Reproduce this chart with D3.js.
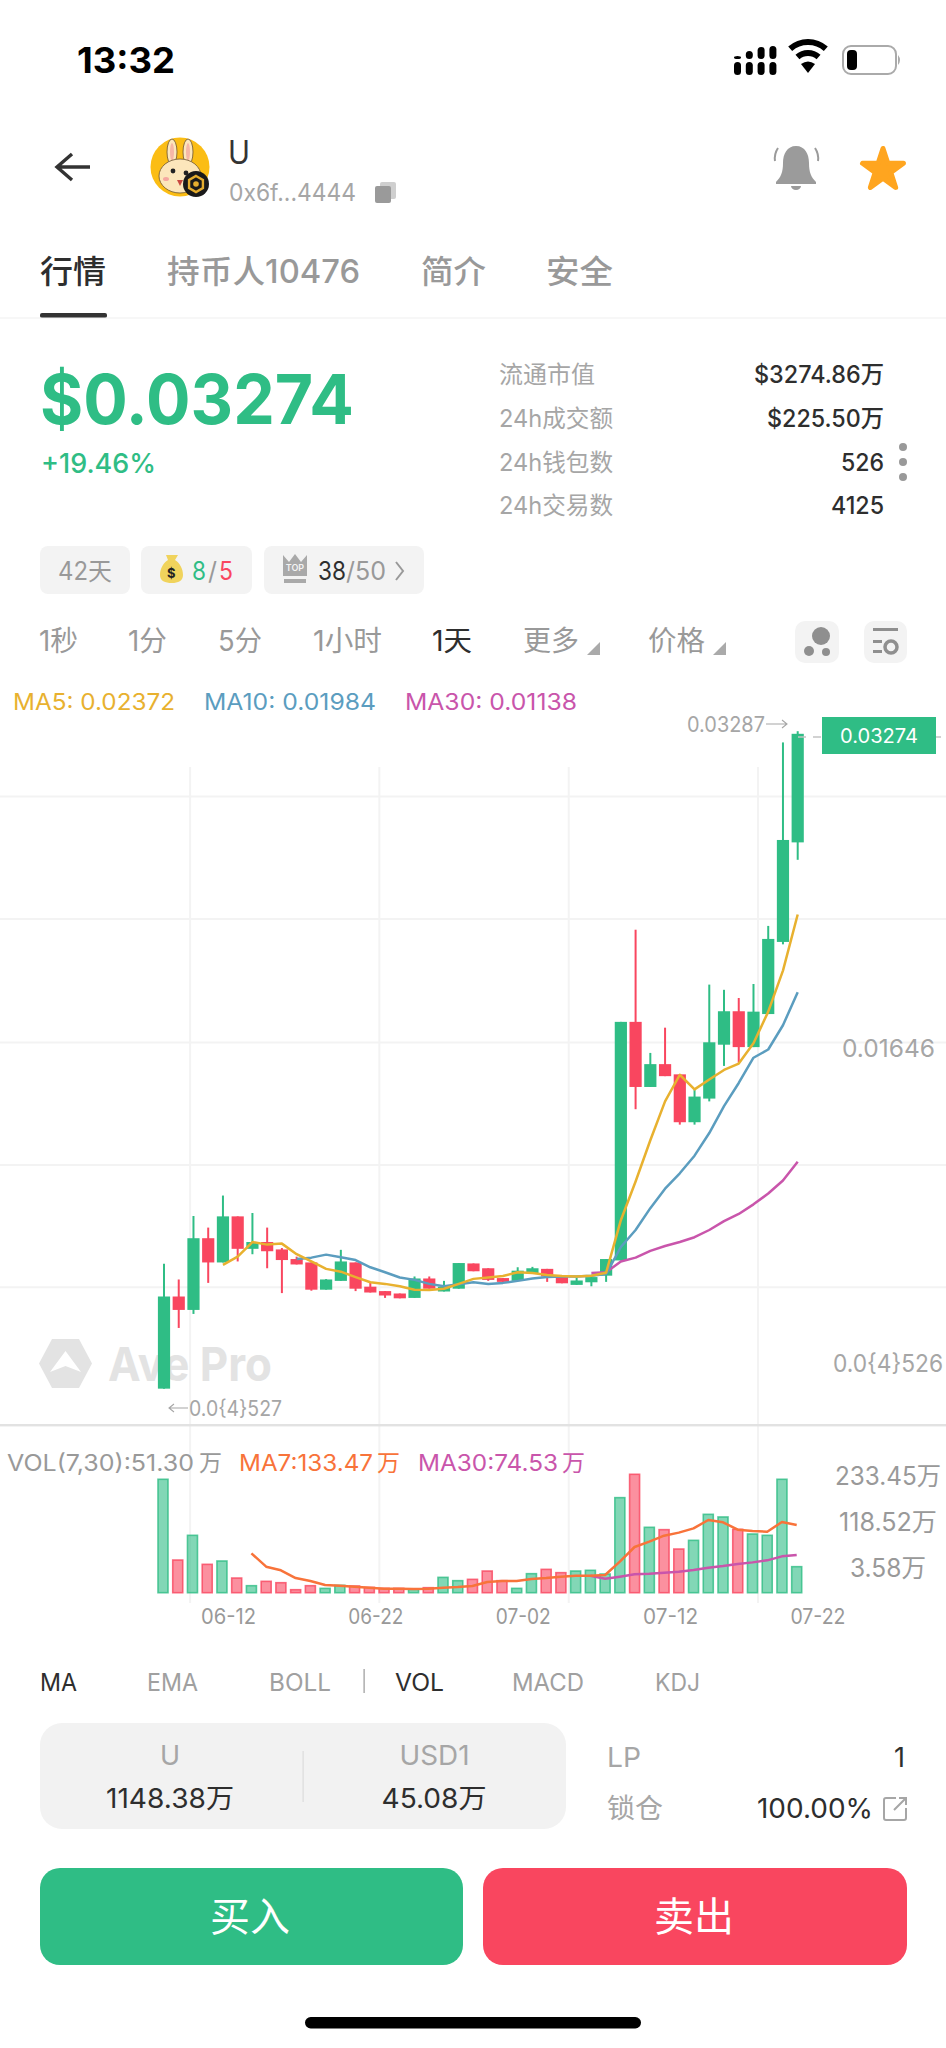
<!DOCTYPE html>
<html>
<head>
<meta charset="utf-8">
<script src="https://cdn.jsdelivr.net/npm/d3@7"></script>
<style>
html, body { margin: 0; padding: 0; background: #fff; }
svg { display: block; }
text { font-family: Inter, "Noto Sans CJK SC", sans-serif; }
</style>
</head>
<body>
<svg id="page" width="946" height="2048"></svg>
<script>
// candles
var candleOpen = [0.00005,0.00465,0.00398,0.00756,0.00635,0.00865,0.00703,0.00737,0.00700,0.00652,0.00635,0.00499,0.00543,0.00635,0.00514,0.00492,0.00480,0.00458,0.00555,0.00490,0.00504,0.00630,0.00606,0.00557,0.00543,0.00579,0.00603,0.00562,0.00523,0.00536,0.00569,0.00645,0.01836,0.01511,0.01625,0.01574,0.01335,0.01453,0.01722,0.01889,0.01710,0.01875,0.02235,0.02732];
var candleClose = [0.00465,0.00398,0.00756,0.00635,0.00865,0.00703,0.00737,0.00691,0.00647,0.00625,0.00499,0.00550,0.00640,0.00504,0.00485,0.00470,0.00456,0.00555,0.00504,0.00514,0.00632,0.00591,0.00548,0.00538,0.00594,0.00606,0.00565,0.00531,0.00545,0.00562,0.00652,0.01836,0.01511,0.01625,0.01565,0.01335,0.01463,0.01734,0.01889,0.01710,0.01887,0.02250,0.02744,0.03274];
var candleHigh = [0.00628,0.00550,0.00867,0.00809,0.00969,0.00865,0.00882,0.00809,0.00707,0.00664,0.00635,0.00552,0.00698,0.00635,0.00533,0.00492,0.00480,0.00565,0.00565,0.00543,0.00632,0.00630,0.00606,0.00557,0.00611,0.00613,0.00603,0.00562,0.00560,0.00572,0.00652,0.01836,0.02296,0.01681,0.01807,0.01574,0.01497,0.02022,0.01996,0.01955,0.02025,0.02315,0.03231,0.03287];
var candleLow = [0.00005,0.00308,0.00378,0.00533,0.00635,0.00640,0.00676,0.00606,0.00482,0.00625,0.00494,0.00499,0.00543,0.00492,0.00485,0.00458,0.00456,0.00458,0.00504,0.00490,0.00504,0.00591,0.00543,0.00538,0.00543,0.00579,0.00538,0.00531,0.00523,0.00516,0.00538,0.00645,0.01400,0.01511,0.01565,0.01323,0.01323,0.01439,0.01616,0.01632,0.01710,0.01875,0.02223,0.02645];

// moving averages, they all end on the last candle
var ma5 = [0.00623,0.00664,0.00737,0.00724,0.00729,0.00676,0.00640,0.00603,0.00589,0.00562,0.00536,0.00528,0.00516,0.00499,0.00497,0.00504,0.00528,0.00553,0.00560,0.00567,0.00586,0.00582,0.00572,0.00567,0.00565,0.00569,0.00584,0.00846,0.01039,0.01245,0.01439,0.01572,0.01499,0.01548,0.01596,0.01628,0.01729,0.01887,0.02092,0.02372];
var ma10 = [0.00652,0.00659,0.00674,0.00661,0.00647,0.00611,0.00586,0.00560,0.00548,0.00528,0.00516,0.00526,0.00536,0.00528,0.00533,0.00543,0.00555,0.00562,0.00565,0.00565,0.00569,0.00577,0.00712,0.00797,0.00906,0.01003,0.01080,0.01168,0.01281,0.01415,0.01531,0.01657,0.01698,0.01819,0.01984];
var ma30 = [0.00582,0.00586,0.00640,0.00659,0.00693,0.00717,0.00737,0.00761,0.00797,0.00841,0.00877,0.00925,0.00979,0.01044,0.01138];

// volume in 万
var volume = [223.6,64.4,113.1,55.9,62.5,28.9,13.8,22.4,19.7,5.9,13.8,8.5,14.5,13.2,10.5,8.5,8.5,6.6,9.9,30.2,23.7,26.3,42.7,23.7,8.5,37.5,46.0,39.5,42.7,44.1,36.8,187.4,233.45,128.9,124.3,86.1,103.2,154.5,149.3,124.9,115.7,113.1,223.6,51.3];
var volMa7 = [77.6,51.3,44.1,28.9,23.0,15.1,13.8,11.8,9.9,7.9,7.9,7.2,7.9,9.9,11.2,13.2,21.0,23.0,23.0,27.0,28.9,31.6,33.5,33.5,34.9,61.2,90.1,100.6,112.4,118.4,126.9,143.4,138.8,124.3,121.7,120.3,139.4,133.47];
var volMa30 = [33.5,27.6,31.6,36.2,37.5,39.5,41.4,44.7,49.3,52.6,56.6,59.8,63.8,71.7,74.53];

// axes
var dateTicks = [4, 14, 24, 34, 44];
var dateLabels = ["06-12", "06-22", "07-02", "07-12", "07-22"];
var gridPrices = [0.02964, 0.02352, 0.01736, 0.01124, 0.00514];
var gridDays = [1.74, 14.58, 27.43, 40.27];
var volTicks = ["233.45万", "118.52万", "3.58万"];

// page texts
var tabs = ["行情", "持币人10476", "简介", "安全"];
var statLabels = ["流通市值", "24h成交额", "24h钱包数", "24h交易数"];
var statValues = ["$3274.86万", "$225.50万", "526", "4125"];
var periods = ["1秒", "1分", "5分", "1小时", "1天", "更多", "价格"];
var indicators = ["MA", "EMA", "BOLL", "VOL", "MACD", "KDJ"];

var GREEN = "#2fbd85", RED = "#f9465f", GREY = "#a6a6a6", DARK = "#2e2e2e";
var MA5_COL = "#e8b12f", MA10_COL = "#5b9dbf", MA30_COL = "#c955ab", ORANGE = "#f8733a";

var svg = d3.select("#page");

function label(g, txt, x, y, size, fill, opt) {
    opt = opt || {};
    var t = g.append("text")
        .attr("x", x)
        .attr("y", y)
        .attr("dy", ".36em")
        .attr("font-size", size)
        .attr("fill", fill)
        .attr("font-weight", opt.weight || 400)
        .attr("text-anchor", opt.anchor || "start")
        .text(txt);
    if (opt.w) {
        t.attr("textLength", opt.w).attr("lengthAdjust", "spacingAndGlyphs");
    }
    return t;
}

function drawStatusBar() {
    var g = svg.append("g");
    label(g, "13:32", 77, 60, 36, "#000", {weight: 700, w: 98});

    // signal dots
    var xs = d3.range(4).map(function(i) { return 734 + i * 11.8; });
    xs.forEach(function(x, i) {
        g.append("rect").attr("x", x).attr("y", 62).attr("width", 7).attr("height", 13).attr("rx", 3.5);
        var top = [56, 51, 47, 46][i];
        g.append("rect").attr("x", x).attr("y", top).attr("width", 7).attr("height", 59 - top).attr("rx", 3.5);
    });

    // wifi
    var wifi = g.append("g").attr("transform", "translate(808,73)");
    [30, 19].forEach(function(r) {
        var arc = d3.arc().innerRadius(r - 6).outerRadius(r).startAngle(-0.72).endAngle(0.72);
        wifi.append("path").attr("d", arc()).attr("transform", "translate(0,-4)");
    });
    wifi.append("path").attr("d", "M0,0L-7,-9Q0,-14,7,-9Z");

    // battery
    g.append("rect").attr("x", 843).attr("y", 46).attr("width", 53).attr("height", 28)
        .attr("rx", 8).attr("fill", "none").attr("stroke", "#aaa").attr("stroke-width", 2);
    g.append("rect").attr("x", 847).attr("y", 50).attr("width", 10).attr("height", 20).attr("rx", 4);
    g.append("path").attr("d", "M898,55q4,5,0,10Z").attr("fill", "#aaa");
}

function drawAvatar(g) {
    var a = g.append("g").attr("transform", "translate(180,167)");
    a.append("circle").attr("r", 29.5).attr("fill", "#fbbd14");
    [-8, 8].forEach(function(dx) {
        a.append("ellipse").attr("cx", dx).attr("cy", -15).attr("rx", 5).attr("ry", 13)
            .attr("fill", "#fce6bb").attr("stroke", "#6b5330").attr("stroke-width", 0.8);
        a.append("ellipse").attr("cx", dx).attr("cy", -15).attr("rx", 2).attr("ry", 9).attr("fill", "#f6b7a6");
    });
    a.append("ellipse").attr("cx", 0).attr("cy", 9).attr("rx", 21).attr("ry", 17)
        .attr("fill", "#fce6bb").attr("stroke", "#6b5330").attr("stroke-width", 0.8);
    a.append("circle").attr("cx", -7).attr("cy", 4).attr("r", 2.4).attr("fill", "#222");
    a.append("circle").attr("cx", 6).attr("cy", 6).attr("r", 2.4).attr("fill", "#222");
    a.append("ellipse").attr("cx", -14).attr("cy", 12).attr("rx", 3).attr("ry", 2).attr("fill", "#f5a7a0");
    a.append("path").attr("d", "M-3,13L0,19L3,13Z").attr("fill", "#c8473f");

    var b = g.append("g").attr("transform", "translate(196,184)");
    b.append("circle").attr("r", 13).attr("fill", "#1a1a1a");
    b.append("path").attr("d", d3.lineRadial().curve(d3.curveLinearClosed)(
        d3.range(6).map(function(i) { return [i * Math.PI / 3, 8]; })))
        .attr("fill", "none").attr("stroke", "#e5ad2f").attr("stroke-width", 2.4);
    b.append("circle").attr("r", 2.8).attr("fill", "#e5ad2f");
}

function drawHeader() {
    var g = svg.append("g");
    g.append("path").attr("d", "M90,167H58M72,154L57,167L72,180")
        .attr("fill", "none").attr("stroke", "#333").attr("stroke-width", 3.4);
    drawAvatar(g);
    label(g, "U", 228, 152, 32, "#333", {w: 22});
    label(g, "0x6f...4444", 229, 192, 24, GREY, {w: 127});
    g.append("rect").attr("x", 380).attr("y", 182).attr("width", 16).attr("height", 17).attr("rx", 2).attr("fill", "#cfcfcf");
    g.append("rect").attr("x", 375).attr("y", 186).attr("width", 16).attr("height", 17).attr("rx", 2).attr("fill", "#9a9a9a");

    // bell
    g.append("path").attr("d", "M796,146c-9,0-13,8-13,17c0,9-2,14-7,19v2h40v-2c-5-5-7-10-7-19c0-9-4-17-13-17Z").attr("fill", "#9b9b9b");
    g.append("path").attr("d", "M791,186h10a5,4 0 0 1-10,0Z").attr("fill", "#9b9b9b");
    g.append("path").attr("d", "M778,148q-4,6-3,13M815,148q4,6,3,13").attr("fill", "none").attr("stroke", "#9b9b9b").attr("stroke-width", 2);

    // star
    g.append("path").attr("d", d3.symbol().type(d3.symbolStar).size(520)())
        .attr("transform", "translate(883,170)").attr("fill", "#ffa51f")
        .attr("stroke", "#ffa51f").attr("stroke-width", 5).attr("stroke-linejoin", "round");

    var tabX = [40, 167, 421, 546], tabW = [66, 193, 65, 67];
    tabs.forEach(function(t, i) {
        label(g, t, tabX[i], 271, 32, i === 0 ? DARK : "#999", {weight: 500, w: tabW[i]});
    });
    g.append("rect").attr("x", 40).attr("y", 313).attr("width", 67).attr("height", 5).attr("rx", 2).attr("fill", "#333");
    g.append("rect").attr("x", 0).attr("y", 317.5).attr("width", 946).attr("height", 1).attr("fill", "#f0f0f0");
}

function drawStats() {
    var g = svg.append("g");
    label(g, "$0.03274", 40, 399, 69, GREEN, {weight: 700, w: 314});
    label(g, "+19.46%", 41, 463, 27, GREEN, {weight: 500, w: 115});

    var rowY = [374, 418, 462, 505];
    var labelW = [96, 114, 114, 114];
    statLabels.forEach(function(t, i) {
        label(g, t, 499, rowY[i], 24, GREY, {w: labelW[i]});
    });
    var valueW = [130, 117, 43, 53];
    statValues.forEach(function(t, i) {
        label(g, t, 884 - valueW[i], rowY[i], 24, DARK, {weight: 500, w: valueW[i]});
    });
    [447, 462, 477].forEach(function(y) {
        g.append("circle").attr("cx", 903).attr("cy", y).attr("r", 4).attr("fill", "#999");
    });

    // chips
    [[40, 90], [141, 111], [264, 160]].forEach(function(c) {
        g.append("rect").attr("x", c[0]).attr("y", 546).attr("width", c[1]).attr("height", 48).attr("rx", 8).attr("fill", "#f3f3f3");
    });
    label(g, "42天", 58, 571, 25, "#999", {w: 54});
    g.append("path").attr("d", "M166,555h12l-3,5c5,3,8,9,8,15c0,6-5,8-11,8c-7,0-12-2-12-8c0-6,3-12,8-15Z").attr("fill", "#f0d35c");
    label(g, "$", 167, 573, 13, "#222", {weight: 700});
    label(g, "8", 192, 571, 25, GREEN, {w: 14});
    label(g, "/", 208, 571, 25, "#999");
    label(g, "5", 219, 571, 25, RED, {w: 14});
    g.append("path").attr("d", "M283,555l6,7l6-8l6,8l6-7v21h-24Z").attr("fill", "#a9a9a9");
    g.append("rect").attr("x", 284).attr("y", 579).attr("width", 22).attr("height", 4).attr("fill", "#a9a9a9");
    label(g, "TOP", 295, 568, 9, "#f3f3f3", {anchor: "middle", weight: 600});
    label(g, "38", 318, 571, 25, DARK, {w: 28});
    label(g, "/50", 346, 571, 25, "#999", {w: 40});
    g.append("path").attr("d", "M396,562l7,9l-7,9").attr("fill", "none").attr("stroke", "#999").attr("stroke-width", 2);

    var periodX = [39, 128, 218, 313, 432, 523, 648], periodW = [39, 39, 44, 69, 40, 56, 57];
    periods.forEach(function(t, i) {
        label(g, t, periodX[i], 641, 28, i === 4 ? DARK : "#999", {w: periodW[i]});
    });
    [600, 726].forEach(function(x) {
        g.append("path").attr("d", "M" + x + ",642v13h-13Z").attr("fill", "#aaa");
    });

    g.append("rect").attr("x", 795).attr("y", 621).attr("width", 44).attr("height", 42).attr("rx", 10).attr("fill", "#f3f3f3");
    g.append("circle").attr("cx", 821).attr("cy", 636).attr("r", 9).attr("fill", "#8f8f8f");
    g.append("circle").attr("cx", 809).attr("cy", 651).attr("r", 5).attr("fill", "#8f8f8f");
    g.append("circle").attr("cx", 826).attr("cy", 652).attr("r", 4).attr("fill", "#8f8f8f");
    g.append("rect").attr("x", 864).attr("y", 621).attr("width", 43).attr("height", 42).attr("rx", 10).attr("fill", "#f3f3f3");
    g.append("rect").attr("x", 873).attr("y", 628).attr("width", 25).attr("height", 3).attr("fill", "#8f8f8f");
    g.append("rect").attr("x", 873).attr("y", 640).attr("width", 9).attr("height", 3).attr("fill", "#8f8f8f");
    g.append("rect").attr("x", 873).attr("y", 650).attr("width", 9).attr("height", 3).attr("fill", "#8f8f8f");
    g.append("circle").attr("cx", 891).attr("cy", 647).attr("r", 6).attr("fill", "none").attr("stroke", "#8f8f8f").attr("stroke-width", 3.5);
}

function drawChart() {
    var x = d3.scaleLinear().domain([0, 43]).range([164, 797.7]);
    var y = d3.scaleLinear().domain([0.0000527, 0.03274]).range([1388.6, 733.8]);
    var volY = d3.scaleLinear().domain([0, 233.45]).range([1592.7, 1474.3]);
    var volX = function(i) { return x(i) - 1; };
    var g = svg.append("g");

    label(g, "MA5: 0.02372", 13, 702, 23, MA5_COL, {w: 162});
    label(g, "MA10: 0.01984", 204, 702, 23, MA10_COL, {w: 172});
    label(g, "MA30: 0.01138", 405, 702, 23, MA30_COL, {w: 172});

    // grid
    var hGrid = d3.axisLeft(y).tickValues(gridPrices).tickSize(946).tickFormat("");
    var hG = g.append("g").attr("transform", "translate(946,0)").call(hGrid);
    var vGrid = d3.axisBottom(x).tickValues(gridDays).tickSize(836).tickFormat("");
    var vG = g.append("g").attr("transform", "translate(0,767)").call(vGrid);
    [hG, vG].forEach(function(a) {
        a.select(".domain").remove();
        a.selectAll("text").remove();
        a.selectAll("line").attr("stroke", "#f3f3f3").attr("stroke-width", 2);
    });
    g.append("rect").attr("x", 0).attr("y", 1424).attr("width", 946).attr("height", 2.4).attr("fill", "#e2e2e2");

    // watermark
    var mark = g.append("g").attr("fill", "#e3e3e3");
    mark.append("path").attr("d", "M52,1339H79L92,1363.5L79,1388H52L39,1363.5Z");
    mark.append("path").attr("d", "M65.5,1351L50,1372L65.5,1366L81,1372Z").attr("fill", "#fff");
    label(mark, "Ave Pro", 108, 1364, 47, "#e3e3e3", {weight: 700, w: 164});

    // candles
    var days = d3.range(candleOpen.length);
    var colour = function(i) { return candleClose[i] >= candleOpen[i] ? GREEN : RED; };
    g.append("g").selectAll("line").data(days).join("line")
        .attr("x1", x).attr("x2", x)
        .attr("y1", function(i) { return y(candleHigh[i]); })
        .attr("y2", function(i) { return y(candleLow[i]); })
        .attr("stroke", colour).attr("stroke-width", 2);
    g.append("g").selectAll("rect").data(days).join("rect")
        .attr("x", function(i) { return x(i) - 6.1; })
        .attr("width", 12.2)
        .attr("y", function(i) { return y(Math.max(candleOpen[i], candleClose[i])); })
        .attr("height", function(i) { return Math.abs(y(candleOpen[i]) - y(candleClose[i])); })
        .attr("fill", colour);

    // moving averages
    function drawMa(values, xf, yf, col) {
        var start = candleOpen.length - values.length;
        var line = d3.line()
            .x(function(d, i) { return xf(i + start); })
            .y(function(d) { return yf(d); });
        g.append("path").attr("d", line(values))
            .attr("fill", "none").attr("stroke", col).attr("stroke-width", 2.5)
            .attr("stroke-linejoin", "round");
    }
    drawMa(ma30, x, y, MA30_COL);
    drawMa(ma10, x, y, MA10_COL);
    drawMa(ma5, x, y, MA5_COL);

    // price labels
    label(g, "0.03287", 687, 724, 21, GREY, {w: 78});
    g.append("path").attr("d", "M766,724H787M782,720L787,724L782,728")
        .attr("fill", "none").attr("stroke", GREY).attr("stroke-width", 1.1);
    g.append("line").attr("x1", 798).attr("x2", 946).attr("y1", 737).attr("y2", 737)
        .attr("stroke", "#c4c4c4").attr("stroke-width", 1.5).attr("stroke-dasharray", "8,7");
    g.append("rect").attr("x", 822).attr("y", 717).attr("width", 114).attr("height", 37).attr("fill", GREEN);
    label(g, "0.03274", 879, 736, 20, "#fff", {anchor: "middle", w: 78});
    label(g, "0.01646", 842, 1048, 24, GREY, {w: 93});
    label(g, "0.0{4}526", 833, 1363, 24, GREY, {w: 110});
    g.append("path").attr("d", "M188,1408H169M174,1404L169,1408L174,1412")
        .attr("fill", "none").attr("stroke", GREY).attr("stroke-width", 1.1);
    label(g, "0.0{4}527", 189, 1408, 21, GREY, {w: 93});

    // volume
    label(g, "VOL(7,30):51.30", 7, 1463, 23, "#999", {w: 187});
    label(g, "万", 199, 1463, 23, "#999");
    label(g, "MA7:133.47", 239, 1463, 23, ORANGE, {w: 134});
    label(g, "万", 377, 1463, 23, ORANGE);
    label(g, "MA30:74.53", 418, 1463, 23, MA30_COL, {w: 140});
    label(g, "万", 562, 1463, 23, MA30_COL);

    g.append("g").selectAll("rect").data(days).join("rect")
        .attr("x", function(i) { return volX(i) - 5; })
        .attr("width", 10)
        .attr("y", function(i) { return volY(volume[i]); })
        .attr("height", function(i) { return volY(0) - volY(volume[i]); })
        .attr("fill", colour).attr("fill-opacity", 0.6)
        .attr("stroke", colour).attr("stroke-opacity", 0.8).attr("stroke-width", 1.6);

    drawMa(volMa30, volX, volY, MA30_COL);
    drawMa(volMa7, volX, volY, ORANGE);

    var volTickY = [1476, 1522, 1568], volTickW = [106, 98, 76];
    volTicks.forEach(function(t, i) {
        label(g, t, 888, volTickY[i], 25, "#999", {anchor: "middle", w: volTickW[i]});
    });

    var dateAxis = d3.axisBottom(x).tickValues(dateTicks)
        .tickFormat(function(d, i) { return dateLabels[i]; }).tickSize(0);
    var dG = g.append("g").attr("transform", "translate(5,1606)").call(dateAxis);
    dG.select(".domain").remove();
    dG.selectAll("text").attr("font-size", 21).attr("fill", "#999")
        .style("font-family", 'Inter, sans-serif').attr("textLength", 55)
        .attr("lengthAdjust", "spacingAndGlyphs");
}

function drawFooter() {
    var g = svg.append("g");
    var indX = [40, 147, 269, 395, 512, 655], indW = [37, 51, 62, 49, 72, 45];
    indicators.forEach(function(t, i) {
        label(g, t, indX[i], 1682, 24, (i === 0 || i === 3) ? DARK : "#a0a0a0", {w: indW[i]});
    });
    g.append("rect").attr("x", 363.5).attr("y", 1669).attr("width", 1.2).attr("height", 24).attr("fill", "#999");

    g.append("rect").attr("x", 40).attr("y", 1723).attr("width", 526).attr("height", 106).attr("rx", 22).attr("fill", "#f2f2f2");
    g.append("rect").attr("x", 302.5).attr("y", 1751).attr("width", 1.2).attr("height", 51).attr("fill", "#dcdcdc");
    label(g, "U", 170, 1755, 27, GREY, {anchor: "middle"});
    label(g, "USD1", 434.5, 1755, 27, GREY, {anchor: "middle", w: 70});
    label(g, "1148.38万", 170, 1798, 27, DARK, {anchor: "middle", w: 128});
    label(g, "45.08万", 434, 1798, 27, DARK, {anchor: "middle", w: 105});

    label(g, "LP", 607, 1757, 27, GREY, {w: 34});
    label(g, "1", 905, 1757, 27, DARK, {anchor: "end"});
    label(g, "锁仓", 607, 1808, 27, GREY, {w: 56});
    label(g, "100.00%", 757, 1808, 27, DARK, {w: 116});
    g.append("path").attr("d", "M896,1798h-10a2,2 0 0 0-2,2v18a2,2 0 0 0 2,2h18a2,2 0 0 0 2-2v-10M894,1810L906,1798M899,1798h7v7")
        .attr("fill", "none").attr("stroke", "#a6a6a6").attr("stroke-width", 2);

    g.append("rect").attr("x", 40).attr("y", 1868).attr("width", 423).attr("height", 97).attr("rx", 20).attr("fill", GREEN);
    g.append("rect").attr("x", 483).attr("y", 1868).attr("width", 424).attr("height", 97).attr("rx", 20).attr("fill", RED);
    label(g, "买入", 250, 1917, 40, "#fff", {anchor: "middle"});
    label(g, "卖出", 694, 1917, 40, "#fff", {anchor: "middle"});

    g.append("rect").attr("x", 305).attr("y", 2017).attr("width", 336).attr("height", 11.5).attr("rx", 5.7).attr("fill", "#000");
}

drawStatusBar();
drawHeader();
drawStats();
drawChart();
drawFooter();
</script>
</body>
</html>
